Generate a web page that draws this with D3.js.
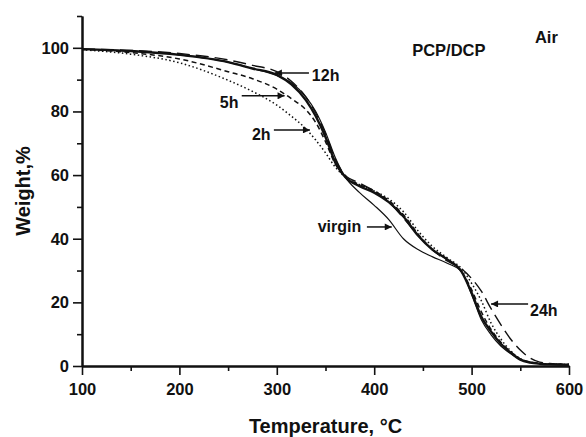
<!DOCTYPE html>
<html>
<head>
<meta charset="utf-8">
<script src="https://cdn.jsdelivr.net/npm/d3@7"></script>
<style>
  body { margin: 0; background: #fff; }
  text { font-family: "Liberation Sans", Arial, sans-serif; font-weight: bold; fill: #111; }
</style>
</head>
<body>
<div id="chart"></div>
<script>
// temperatures (°C) at which the curves were read
const temps = [100, 150, 200, 250, 275, 300, 315, 330, 340, 350, 360, 370, 385, 400, 415, 430, 445, 460, 475, 490, 500, 510, 520, 530, 540, 550, 560, 570, 580, 600];

// weight % for each sample
const virgin = [99.6, 99.0, 97.8, 95.5, 93.5, 91.3, 89, 84.5, 80, 73.5, 65.5, 59.5, 54.5, 50.5, 46, 40, 36.6, 34.3, 32.3, 29.5, 22.5, 14.5, 9.8, 6.3, 3.9, 2.0, 1.1, 0.7, 0.5, 0.4];
const h2 = [99.4, 98.0, 95.3, 89.8, 86.3, 82, 78.5, 74.5, 71, 67, 62.5, 59.5, 57, 55, 52.5, 48.5, 42.5, 37.5, 34, 30.5, 26, 20.5, 13.5, 8.5, 4.8, 2.3, 1.2, 0.8, 0.6, 0.5];
const h5 = [99.5, 98.5, 96.5, 92.5, 90.3, 87, 84, 80.5, 76.5, 70.5, 63.5, 59.5, 57, 55, 52, 47.5, 41.5, 36.5, 33.5, 29.5, 24, 17, 11.5, 7.5, 4.5, 2.2, 1.2, 0.8, 0.6, 0.5];
const h12 = [99.6, 99.0, 97.8, 95.5, 93.5, 91.5, 88.5, 83.5, 78.5, 72, 64, 59.5, 56.5, 54.5, 51.5, 47, 41, 36.5, 33.5, 29.5, 23, 15.5, 10.8, 7, 4.2, 2.0, 1.1, 0.7, 0.5, 0.4];
const h24 = [99.6, 99.2, 98.2, 96.2, 94.5, 92.5, 89.5, 84.5, 79.5, 73, 65, 60, 57.5, 55, 51.5, 46.5, 41, 36.5, 33, 30.5, 27.5, 23.5, 18, 13, 8.5, 5, 2.5, 1.2, 0.8, 0.5];

const xTicks = [100, 200, 300, 400, 500, 600];
const xMinor = [150, 250, 350, 450, 550];
const yTicks = [0, 20, 40, 60, 80, 100];
const yMinor = [10, 30, 50, 70, 90, 110];

// arrow labels: text position and arrow (from -> to), all in data units
const labels = [
  { text: '12h', tx: 336, ty: 89.6, x1: 333, y1: 92.1, x2: 298, y2: 92.1 },
  { text: '5h', tx: 241.5, ty: 81.1, x1: 264, y1: 84.9, x2: 308, y2: 84.9 },
  { text: '2h', tx: 274.5, ty: 71.1, x1: 297, y1: 74.2, x2: 334, y2: 74.2 },
  { text: 'virgin', tx: 342, ty: 42.1, x1: 392.5, y1: 43.7, x2: 418, y2: 43.7 },
  { text: '24h', tx: 560, ty: 15.7, x1: 558, y1: 19.5, x2: 520, y2: 19.5 }
];

const series = [
  { name: 'virgin', values: virgin, width: 1.2, dash: null },
  { name: '2h', values: h2, width: 1.5, dash: '1.5,2.5' },
  { name: '5h', values: h5, width: 1.5, dash: '5,3.5' },
  { name: '24h', values: h24, width: 1.4, dash: '13,6' },
  { name: '12h', values: h12, width: 2.4, dash: null }
];

const W = 586, H = 437;
const margin = { top: 16, right: 17, bottom: 71, left: 82 };

const svg = d3.select('#chart').append('svg')
  .attr('width', W)
  .attr('height', H);

const x = d3.scaleLinear().domain([100, 600]).range([margin.left, W - margin.right]);
const y = d3.scaleLinear().domain([0, 110]).range([H - margin.bottom, margin.top]);

// axes: major ticks with labels, minor ticks shorter
svg.append('g')
  .attr('transform', `translate(0,${y(0)})`)
  .call(d3.axisBottom(x).tickValues(xTicks).tickSize(9).tickSizeOuter(0).tickPadding(8).tickFormat(d3.format('d')));
svg.append('g')
  .attr('transform', `translate(0,${y(0)})`)
  .call(d3.axisBottom(x).tickValues(xMinor).tickSize(5).tickSizeOuter(0).tickFormat(''));

svg.append('g')
  .attr('transform', `translate(${x(100)},0)`)
  .call(d3.axisLeft(y).tickValues(yTicks).tickSize(9).tickSizeOuter(0).tickPadding(4).tickFormat(d3.format('d')));
svg.append('g')
  .attr('transform', `translate(${x(100)},0)`)
  .call(d3.axisLeft(y).tickValues(yMinor).tickSize(5).tickSizeOuter(0).tickFormat(''));

svg.selectAll('.domain').attr('stroke', '#111').attr('stroke-width', 2);
svg.selectAll('.tick line').attr('stroke', '#111').attr('stroke-width', 1.6);
svg.selectAll('.tick text').style('font-size', '16.5px').attr('fill', '#111');

// lines
const line = d3.line()
  .x((d, i) => x(temps[i]))
  .y(d => y(d))
  .curve(d3.curveMonotoneX);

svg.append('g').selectAll('path')
  .data(series)
  .enter()
  .append('path')
  .attr('d', d => line(d.values))
  .attr('fill', 'none')
  .attr('stroke', '#111')
  .attr('stroke-width', d => d.width)
  .attr('stroke-dasharray', d => d.dash);

// arrow head
svg.append('defs').append('marker')
  .attr('id', 'arrow')
  .attr('viewBox', '0 0 10 10')
  .attr('refX', 10)
  .attr('refY', 5)
  .attr('markerWidth', 10)
  .attr('markerHeight', 7)
  .attr('markerUnits', 'userSpaceOnUse')
  .attr('orient', 'auto')
  .append('path')
  .attr('d', 'M0,0 L10,5 L0,10 Z')
  .attr('fill', '#111');

const ann = svg.append('g');
ann.selectAll('line')
  .data(labels)
  .enter()
  .append('line')
  .attr('x1', d => x(d.x1))
  .attr('y1', d => y(d.y1))
  .attr('x2', d => x(d.x2))
  .attr('y2', d => y(d.y2))
  .attr('stroke', '#111')
  .attr('stroke-width', 1.5)
  .attr('marker-end', 'url(#arrow)');

ann.selectAll('text')
  .data(labels)
  .enter()
  .append('text')
  .attr('x', d => x(d.tx))
  .attr('y', d => y(d.ty))
  .style('font-size', '16px')
  .text(d => d.text);

svg.append('text')
  .attr('x', x(439))
  .attr('y', y(97.5))
  .style('font-size', '16.5px')
  .text('PCP/DCP');

svg.append('text')
  .attr('x', x(565))
  .attr('y', y(101.6))
  .style('font-size', '16.5px')
  .text('Air');

// axis titles
svg.append('text')
  .attr('x', (x(100) + x(600)) / 2)
  .attr('y', 433)
  .attr('text-anchor', 'middle')
  .style('font-size', '20px')
  .text('Temperature, °C');

svg.append('text')
  .attr('transform', `translate(30,${(y(0) + y(110)) / 2}) rotate(-90)`)
  .attr('text-anchor', 'middle')
  .style('font-size', '20px')
  .text('Weight,%');
</script>
</body>
</html>
